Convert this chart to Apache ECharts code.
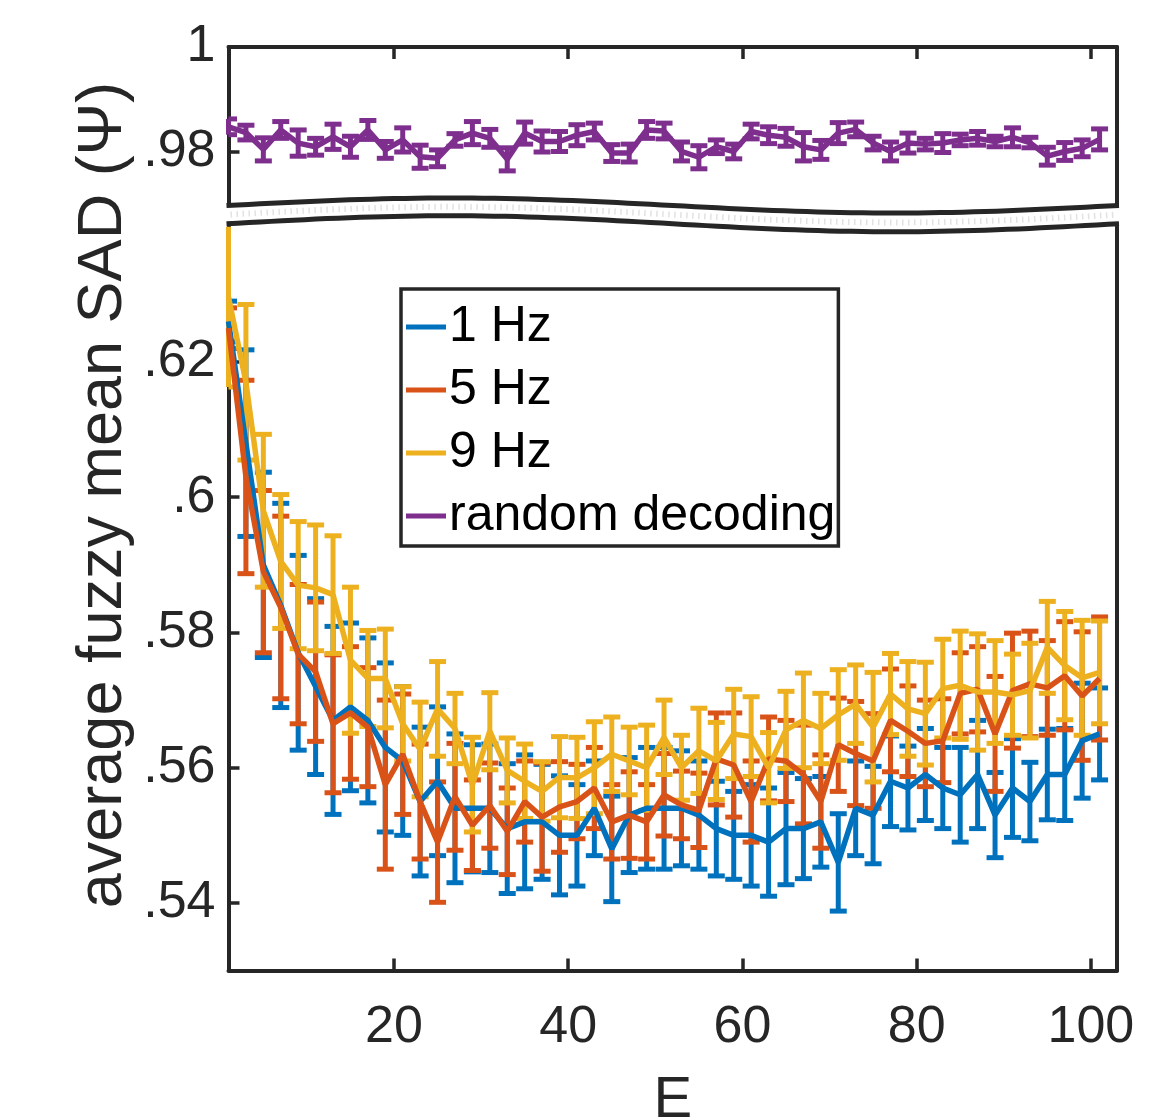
<!DOCTYPE html>
<html>
<head>
<meta charset="utf-8">
<script src="https://cdn.jsdelivr.net/npm/echarts@6/dist/echarts.min.js"></script>
<style>
  html, body { margin: 0; padding: 0; background: #fff; }
  #chart { width: 1169px; height: 1120px; }
</style>
</head>
<body>
<div id="chart"></div>
<script>
  // E values (x)
  const E = [1, 3, 5, 7, 9, 11, 13, 15, 17, 19, 21, 23, 25, 27, 29, 31, 33, 35, 37, 39,
    41, 43, 45, 47, 49, 51, 53, 55, 57, 59, 61, 63, 65, 67, 69, 71, 73, 75, 77, 79,
    81, 83, 85, 87, 89, 91, 93, 95, 97, 99, 101];

  // 1 Hz
  const hz1 = [0.626, 0.608, 0.590, 0.584, 0.577, 0.572, 0.567, 0.569, 0.567, 0.563,
    0.561, 0.555, 0.558, 0.554, 0.554, 0.554, 0.551, 0.552, 0.552, 0.550,
    0.550, 0.554, 0.548, 0.553, 0.554, 0.554, 0.554, 0.553, 0.551, 0.550,
    0.550, 0.549, 0.551, 0.551, 0.552, 0.546, 0.554, 0.553, 0.558, 0.557,
    0.559, 0.557, 0.556, 0.559, 0.553, 0.557, 0.555, 0.559, 0.559, 0.564, 0.565];
  const hz1Err = [0.003, 0.0138, 0.0137, 0.0151, 0.0144, 0.013, 0.0139, 0.0124, 0.0122, 0.0125,
    0.011, 0.011, 0.011, 0.011, 0.0094, 0.0095, 0.0096, 0.0099, 0.0085, 0.0088,
    0.0075, 0.007, 0.0078, 0.0085, 0.009, 0.009, 0.0085, 0.008, 0.007, 0.0065,
    0.0075, 0.008, 0.0083, 0.0074, 0.0067, 0.0072, 0.007, 0.0072, 0.0067, 0.0062,
    0.0068, 0.006, 0.007, 0.008, 0.0063, 0.0073, 0.0058, 0.0067, 0.0068, 0.0085, 0.0068];

  // 5 Hz
  const hz5 = [0.625, 0.603, 0.589, 0.5837, 0.5768, 0.5742, 0.5665, 0.5681, 0.566, 0.5575,
    0.562, 0.555, 0.549, 0.5557, 0.5515, 0.5544, 0.5506, 0.555, 0.5527, 0.5542,
    0.555, 0.557, 0.552, 0.553, 0.552, 0.556, 0.5545, 0.5537, 0.5613, 0.5604,
    0.555, 0.5613, 0.561, 0.559, 0.555, 0.5634, 0.5621, 0.561, 0.567, 0.5654,
    0.5636, 0.564, 0.571, 0.5716, 0.565, 0.5714, 0.5724, 0.5718, 0.5736, 0.5706, 0.5732];
  const hz5Err = [0.003, 0.0143, 0.012, 0.0135, 0.0103, 0.0103, 0.0102, 0.0098, 0.0088, 0.0125,
    0.0089, 0.0085, 0.0089, 0.0079, 0.0067, 0.0063, 0.0064, 0.006, 0.008, 0.0067,
    0.0055, 0.006, 0.0055, 0.0064, 0.0055, 0.0061, 0.005, 0.0055, 0.0068, 0.0077,
    0.006, 0.0062, 0.006, 0.0073, 0.0069, 0.0069, 0.0077, 0.007, 0.0076, 0.0067,
    0.0064, 0.0062, 0.006, 0.0063, 0.0085, 0.0085, 0.0078, 0.007, 0.008, 0.0095, 0.0091];

  // 9 Hz
  const hz9 = [0.6296, 0.617, 0.598, 0.5905, 0.587, 0.5866, 0.5856, 0.5759, 0.5732, 0.5732,
    0.5665, 0.5627, 0.5687, 0.5658, 0.5575, 0.5654, 0.5596, 0.558, 0.5565, 0.5586,
    0.5585, 0.560, 0.562, 0.561, 0.560, 0.5645, 0.560, 0.5625, 0.561, 0.565,
    0.5646, 0.560, 0.5656, 0.567, 0.5658, 0.5678, 0.5694, 0.566, 0.5709, 0.5687,
    0.568, 0.5717, 0.5722, 0.5712, 0.5712, 0.5708, 0.5714, 0.5778, 0.5751, 0.5733, 0.5741];
  const hz9Err = [0.0133, 0.0115, 0.0113, 0.0099, 0.0094, 0.0093, 0.0087, 0.0108, 0.0071, 0.0073,
    0.0055, 0.007, 0.007, 0.0052, 0.007, 0.0057, 0.0048, 0.0055, 0.0044, 0.006,
    0.006, 0.0068, 0.0055, 0.005, 0.0063, 0.0055, 0.0048, 0.0063, 0.0057, 0.0066,
    0.0059, 0.0052, 0.0057, 0.007, 0.0052, 0.0067, 0.0058, 0.0081, 0.006, 0.007,
    0.0076, 0.0073, 0.008, 0.0086, 0.0076, 0.006, 0.007, 0.0068, 0.008, 0.0085, 0.0076];

  // random decoding
  const rnd = [0.9848, 0.9837, 0.9805, 0.9842, 0.9817, 0.981, 0.9829, 0.981, 0.9842, 0.9804,
    0.9823, 0.9791, 0.9788, 0.9823, 0.9836, 0.9826, 0.9786, 0.9836, 0.982, 0.982,
    0.9832, 0.9839, 0.9798, 0.9798, 0.9842, 0.984, 0.9801, 0.979, 0.981, 0.9801,
    0.9839, 0.9832, 0.9828, 0.981, 0.9804, 0.9836, 0.9843, 0.9817, 0.9801, 0.9817,
    0.9815, 0.9817, 0.9823, 0.9826, 0.982, 0.9828, 0.9818, 0.9792, 0.9801, 0.9807, 0.9824];
  const rndErr = [0.0015, 0.0014, 0.0022, 0.0016, 0.0025, 0.0016, 0.0024, 0.002, 0.0018, 0.0016,
    0.0023, 0.0022, 0.0016, 0.0012, 0.0022, 0.0017, 0.0022, 0.0021, 0.002, 0.0019,
    0.002, 0.0016, 0.0016, 0.0017, 0.0016, 0.0015, 0.0018, 0.0022, 0.0013, 0.0014,
    0.0014, 0.0016, 0.0017, 0.0027, 0.0018, 0.002, 0.0014, 0.0013, 0.0018, 0.0019,
    0.0011, 0.0018, 0.0011, 0.0013, 0.001, 0.0018, 0.001, 0.0017, 0.0017, 0.0016, 0.002];

  const xTicks = [20, 40, 60, 80, 100];
  const yTicksTop = [0.98, 1];
  const yTicksBottom = [0.54, 0.56, 0.58, 0.6, 0.62];

  const FONT = '"Liberation Sans", Arial, Helvetica, sans-serif';
  const AX = '#262626';
  const colors = { hz1: '#0072BD', hz5: '#D95319', hz9: '#EDB120', rnd: '#7E2F8E' };
  const LW = 5.5;     // mean line width
  const ERR_LW = 5;   // error bar line width
  const CAP = 8.5;    // half width of error bar caps

  function errRender(params, api) {
    const cs = params.coordSys;
    const x = api.value(0);
    const pLo = api.coord([x, api.value(1)]);
    const pHi = api.coord([x, api.value(2)]);
    const top = cs.y, bot = cs.y + cs.height;
    const cx = pLo[0];
    const y1 = Math.max(top, Math.min(bot, pHi[1]));
    const y2 = Math.max(top, Math.min(bot, pLo[1]));
    const style = { stroke: api.visual('color'), lineWidth: ERR_LW };
    const x1 = Math.max(cs.x, cx - CAP), x2 = Math.min(cs.x + cs.width, cx + CAP);
    const children = [{ type: 'line', shape: { x1: cx, y1: y1, x2: cx, y2: y2 }, style: style }];
    if (pHi[1] >= top && pHi[1] <= bot) {
      children.push({ type: 'line', shape: { x1: x1, y1: pHi[1], x2: x2, y2: pHi[1] }, style: style });
    }
    if (pLo[1] >= top && pLo[1] <= bot) {
      children.push({ type: 'line', shape: { x1: x1, y1: pLo[1], x2: x2, y2: pLo[1] }, style: style });
    }
    return { type: 'group', children: children };
  }

  function errData(mean, err) {
    return E.map((e, i) => [e, mean[i] - err[i], mean[i] + err[i]]);
  }
  function lineData(mean) {
    return E.map((e, i) => [e, mean[i]]);
  }

  function pair(name, key, mean, err, grid) {
    return [
      {
        name: name + ' err', type: 'custom', xAxisIndex: grid, yAxisIndex: grid * 2,
        itemStyle: { color: colors[key] }, renderItem: errRender,
        data: errData(mean, err), encode: { x: 0, y: [1, 2] }, silent: true
      },
      {
        name: name, type: 'line', xAxisIndex: grid, yAxisIndex: grid * 2,
        color: colors[key], showSymbol: false, symbol: 'none',
        lineStyle: { width: LW, color: colors[key] },
        data: lineData(mean), silent: true
      }
    ];
  }

  const tickFmt = v => (v === 1 ? '1' : String(v).replace(/^0/, ''));

  const chart = echarts.init(document.getElementById('chart'));
  const option = {
    animation: false,
    backgroundColor: '#fff',
    grid: [
      { left: 228.5, right: 52, top: 47, height: 157.5, outerBoundsMode: 'none', containLabel: false },
      { left: 228.5, right: 52, top: 226.75, bottom: 149.4, outerBoundsMode: 'none', containLabel: false }
    ],
    xAxis: [
      {
        gridIndex: 0, type: 'value', min: 1, max: 103, position: 'top',
        axisLine: { show: true, lineStyle: { color: AX, width: 4 } },
        axisTick: { show: true, inside: true, length: 12, lineStyle: { color: AX, width: 3.5 }, customValues: xTicks },
        axisLabel: { show: false },
        splitLine: { show: false }
      },
      {
        gridIndex: 1, type: 'value', min: 1, max: 103, position: 'bottom',
        axisLine: { show: true, lineStyle: { color: AX, width: 4 } },
        axisTick: { show: true, inside: true, length: 12, lineStyle: { color: AX, width: 3.5 }, customValues: xTicks },
        axisLabel: { customValues: xTicks, fontSize: 52, fontFamily: FONT, color: AX, margin: 31 },
        splitLine: { show: false },
        name: 'E', nameLocation: 'middle', nameGap: 101,
        nameTextStyle: { fontSize: 58, fontFamily: FONT, color: AX }
      }
    ],
    yAxis: [
      {
        gridIndex: 0, type: 'value', min: 0.97, max: 1, position: 'left',
        axisLine: { show: true, lineStyle: { color: AX, width: 4 } },
        axisTick: { show: true, inside: true, length: 11, lineStyle: { color: AX, width: 3.5 }, customValues: yTicksTop },
        axisLabel: { customValues: yTicksTop, formatter: tickFmt, fontSize: 52, fontFamily: FONT, color: AX, margin: 13 },
        splitLine: { show: false }
      },
      {
        gridIndex: 0, type: 'value', min: 0.97, max: 1, position: 'right',
        axisLine: { show: true, lineStyle: { color: AX, width: 4 } },
        axisTick: { show: false }, axisLabel: { show: false }, splitLine: { show: false }
      },
      {
        gridIndex: 1, type: 'value', min: 0.53, max: 0.64, position: 'left',
        axisLine: { show: true, lineStyle: { color: AX, width: 4 } },
        axisTick: { show: true, inside: true, length: 11, lineStyle: { color: AX, width: 3.5 }, customValues: yTicksBottom },
        axisLabel: { customValues: yTicksBottom, formatter: tickFmt, fontSize: 52, fontFamily: FONT, color: AX, margin: 13 },
        splitLine: { show: false }
      },
      {
        gridIndex: 1, type: 'value', min: 0.53, max: 0.64, position: 'right',
        axisLine: { show: true, lineStyle: { color: AX, width: 4 } },
        axisTick: { show: false }, axisLabel: { show: false }, splitLine: { show: false }
      }
    ],
    legend: {
      data: ['1 Hz', '5 Hz', '9 Hz', 'random decoding'],
      orient: 'vertical', left: 401, top: 289,
      padding: [13, 3, 5, 5], itemGap: 13, itemWidth: 40, itemHeight: 5,
      icon: 'rect', selectedMode: false,
      borderColor: AX, borderWidth: 3.5, backgroundColor: '#fff',
      textStyle: { fontSize: 50, lineHeight: 50, fontFamily: FONT, color: '#000', padding: [0, 0, 0, -2] }
    },
    series: [].concat(
      pair('1 Hz', 'hz1', hz1, hz1Err, 1),
      pair('5 Hz', 'hz5', hz5, hz5Err, 1),
      pair('9 Hz', 'hz9', hz9, hz9Err, 1),
      pair('random decoding', 'rnd', rnd, rndErr, 0)
    )
  };
  chart.setOption(option);

  // axis break decoration, placed from the axes' own pixel positions
  const pTop = chart.convertToPixel({ gridIndex: 0 }, [1, 0.97]);
  const pBot = chart.convertToPixel({ gridIndex: 1 }, [103, 0.64]);
  const L = pTop[0], R = pBot[0];
  function wave(base, amp, x0, x1) {
    const pts = [];
    for (let i = 0; i <= 80; i++) {
      const px = x0 + (x1 - x0) * i / 80;
      pts.push([px, base - amp * Math.sin(2 * Math.PI * (px - L) / (R - L))]);
    }
    return pts;
  }
  const upBase = pTop[1] + 1, loBase = pBot[1] - 3;
  const band = wave(upBase, 7.5, L - 8, R + 8).concat(wave(loBase, 8, L - 8, R + 8).reverse());
  chart.setOption({
    graphic: [
      { type: 'polygon', z: 100, shape: { points: band }, style: { fill: '#fff' }, silent: true },
      { type: 'polyline', z: 101, shape: { points: wave((upBase + loBase) / 2, 7.8, L + 2, R - 2) },
        style: { stroke: '#e2e2e2', lineWidth: 6, lineDash: [1.5, 4.5], fill: null }, silent: true },
      { type: 'polyline', z: 102, shape: { points: wave(upBase, 7.5, L - 2, R + 2) },
        style: { stroke: AX, lineWidth: 5, fill: null }, silent: true },
      { type: 'polyline', z: 102, shape: { points: wave(loBase, 8, L - 2, R + 2) },
        style: { stroke: AX, lineWidth: 5, fill: null }, silent: true },
      { type: 'text', z: 102, x: 104, y: 495, rotation: Math.PI / 2, silent: true,
        style: { text: 'average fuzzy mean SAD (Ψ)', x: 0, y: 0, align: 'center', verticalAlign: 'middle',
          fontSize: 63, fontFamily: FONT, fill: AX } }
    ]
  });
</script>
</body>
</html>
